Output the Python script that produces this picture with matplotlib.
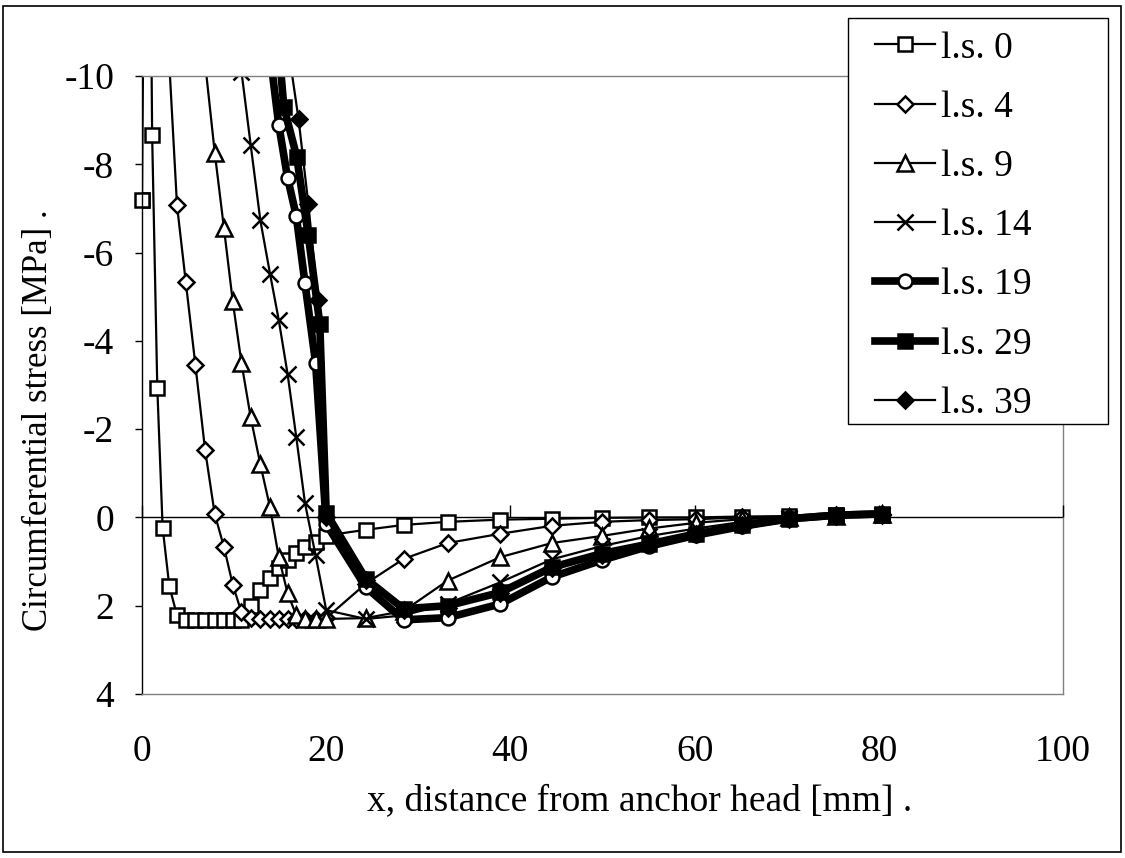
import numpy as np
import matplotlib
matplotlib.use("Agg")
import matplotlib.pyplot as plt
from matplotlib.patches import Rectangle

nan = np.nan

# ---- data ----
x_near = [0, 0.55, 1.1, 1.66, 2.24, 2.96, 3.8, 4.75, 5.8, 6.85, 7.9, 8.9, 9.85,
          10.8, 11.8, 12.85, 13.9, 14.85, 15.8, 16.75, 17.7, 18.85, 20.0]
x_far = [24.3, 28.4, 33.2, 38.9, 44.5, 49.9, 55.1, 60.2, 65.2, 70.3, 75.3, 80.3]

ls0 = [-7.2, -22.6, -8.67, -2.94, 0.23, 1.55, 2.22, 2.33, 2.33, 2.33, 2.33, 2.33, 2.33,
       2.32, 2.0, 1.65, 1.37, 1.14, 0.96, 0.81, 0.66, 0.55, 0.41,
       0.28, 0.17, 0.10, 0.05, 0.03, 0.01, 0.0, 0.0, -0.02, -0.03, -0.05, -0.06]
ls4 = [nan, nan, nan, nan, -16, -10.3, -7.07, -5.34, -3.45, -1.53, -0.07, 0.67, 1.52,
       2.15, 2.28, 2.3, 2.3, 2.3, 2.3, 2.3, 2.3, 2.3, 2.28,
       1.5, 0.94, 0.58, 0.37, 0.19, 0.1, 0.06, 0.04, 0.0, -0.02, -0.04, -0.06]
ls9 = [nan, nan, nan, nan, nan, nan, nan, nan, -15, -10.3, -8.26, -6.55, -4.9,
       -3.5, -2.27, -1.2, -0.23, 0.9, 1.71, 2.22, 2.3, 2.3, 2.3,
       2.28, 2.12, 1.43, 0.9, 0.58, 0.42, 0.25, 0.12, 0.04, 0.0, -0.04, -0.07]
ls14 = [nan, nan, nan, nan, nan, nan, nan, nan, nan, nan, nan, nan, -14,
        -10.1, -8.44, -6.73, -5.52, -4.47, -3.26, -1.82, -0.32, 0.86, 2.1,
        2.3, 2.22, 1.95, 1.47, 0.95, 0.65, 0.42, 0.25, 0.1, 0.02, -0.03, -0.06]

x19 = [13.9, 14.85, 15.8, 16.75, 17.7, 18.85, 20.0]
ls19 = [-10.5, -8.89, -7.7, -6.83, -5.3, -3.5, 0.15,
        1.58, 2.32, 2.27, 1.96, 1.35, 0.97, 0.65, 0.4, 0.2, 0.03, -0.05, -0.08]
x29 = [14.5, 15.4, 16.8, 18.05, 19.3, 20.0]
ls29 = [-11.5, -9.3, -8.17, -6.4, -4.39, -0.1,
        1.39, 2.07, 2.0, 1.7, 1.13, 0.82, 0.6, 0.37, 0.18, 0.03, -0.05, -0.08]
x39 = [15.9, 17.0, 18.06, 19.1, 20.0]
ls39 = [-10.6, -9.02, -7.1, -4.92, 0.0,
        1.42, 2.1, 2.05, 1.72, 1.15, 0.85, 0.6, 0.37, 0.18, 0.03, -0.05, -0.08]

labels = ["l.s. 0", "l.s. 4", "l.s. 9", "l.s. 14", "l.s. 19", "l.s. 29", "l.s. 39"]
x_ticks = [0, 20, 40, 60, 80, 100]
y_ticks = [-10, -8, -6, -4, -2, 0, 2, 4]

# ---- style ----
plt.rcParams['font.family'] = ['Liberation Serif', 'DejaVu Serif']
plt.rcParams['axes.unicode_minus'] = False
FS = 27

W, H = 1125, 858
fig = plt.figure(figsize=(W/100, H/100), dpi=100)
ax = fig.add_axes([142/W, 1-694/H, (1063-142)/W, (694-76)/H])

xn = x_near + x_far
thin = 1.6
mew = 1.8
sq_style = dict(marker='s', ms=10.5, mfc='white', mec='black', mew=mew)
ax.plot(xn, ls0, color='black', lw=thin, label=labels[0], **sq_style)
# first point sits on the axis edge and is drawn unclipped, as in the original
ax.plot(x_near[:1], ls0[:1], ls='none', clip_on=False, zorder=2.1, **sq_style)
ax.plot(xn, ls4, color='black', lw=thin, marker='D', ms=8.5, mfc='white', mec='black', mew=mew, label=labels[1])
ax.plot(xn, ls9, color='black', lw=thin, marker='^', ms=11, mfc='white', mec='black', mew=mew, label=labels[2])
ax.plot(xn, ls14, color='black', lw=thin, marker='x', ms=11, mec='black', mew=mew, label=labels[3])
ax.plot(x19 + x_far, ls19, color='black', lw=5.5, marker='o', ms=10, mfc='white', mec='black', mew=mew, label=labels[4])
ax.plot(x29 + x_far, ls29, color='black', lw=5.5, marker='s', ms=10, mfc='black', mec='black', mew=mew, label=labels[5])
ax.plot(x39 + x_far, ls39, color='black', lw=thin, marker='D', ms=8.5, mfc='black', mec='black', mew=mew, label=labels[6])

ax.set_xlim(0, 100)
ax.set_ylim(4, -10)
ax.axhline(0, color='black', lw=1, zorder=1)

ax.set_yticks(y_ticks)
ax.set_yticklabels([str(v) for v in y_ticks], fontsize=FS)
ax.set_xticks(x_ticks)
ax.set_xticklabels([str(v) for v in x_ticks], fontsize=FS)
ax.tick_params(axis='x', length=0, pad=29)
ax.tick_params(axis='y', direction='out', length=5, width=1, pad=15)

for s in ['top', 'right', 'bottom']:
    ax.spines[s].set_color('#808080')
    ax.spines[s].set_linewidth(1)
ax.spines['left'].set_color('black')
ax.spines['left'].set_linewidth(1)

# tick marks on the horizontal axis line at y = 0
ax2 = ax.twiny()
ax2.set_xlim(0, 100)
ax2.spines['top'].set_position(('data', 0))
for s in ['bottom', 'left', 'right', 'top']:
    ax2.spines[s].set_visible(False)
ax2.set_xticks(x_ticks)
ax2.set_xticklabels([])
ax2.tick_params(axis='x', direction='out', length=9, width=1, color='black')

ax.set_xlabel("x, distance from anchor head [mm] .", fontsize=FS)
ax.xaxis.set_label_coords(0.54, -0.145)
ax.set_ylabel("Circumferential stress [MPa] .", fontsize=25)
ax.yaxis.set_label_coords(-0.094, 0.443)

handles, lbls = ax.get_legend_handles_labels()
fig.patches.append(Rectangle((848/W, 1-424/H), 260/W, 406/H, transform=fig.transFigure,
                             fill=True, facecolor='white', edgecolor='black', lw=1, zorder=2.5))
leg = fig.legend(handles, lbls, loc='upper left', bbox_to_anchor=(875/W, 1-31/H),
                 bbox_transform=fig.transFigure, borderaxespad=0, borderpad=0,
                 fontsize=FS, frameon=False,
                 handlelength=1.6, handletextpad=0.15, labelspacing=0.66)
leg.set_zorder(5)
fig.patches.append(Rectangle((3/W, 6/H), 1118/W, 846/H, transform=fig.transFigure,
                             fill=False, edgecolor='black', lw=1.2))

fig.savefig("out.png", dpi=100)
